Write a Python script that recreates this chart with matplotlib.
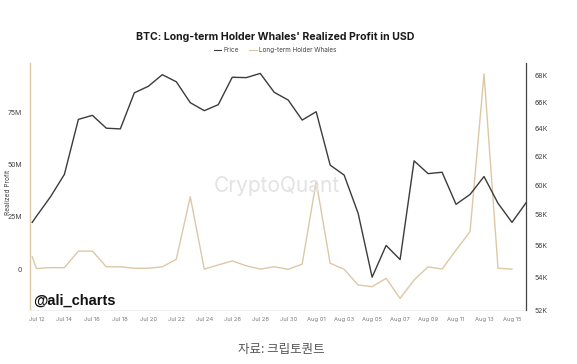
import matplotlib
matplotlib.use("Agg")
import matplotlib.pyplot as plt
import matplotlib.dates as mdates
from matplotlib.lines import Line2D
from matplotlib.ticker import FixedLocator, FuncFormatter, NullLocator
import pandas as pd

plt.rcParams["font.family"] = ["Inter", "DejaVu Sans"]

# daily points Jul 12 .. Aug 16, plus the partial point at the very left edge
dates = pd.to_datetime(["2024-07-11 16:48"]).append(pd.date_range("2024-07-12", "2024-08-16", freq="D"))

# BTC price in K USD (right axis, log)
price = [57.5, 57.9, 59.2, 60.75, 64.7, 65.0, 64.05, 64.0, 66.7, 67.2, 68.1, 67.55, 65.95,
         65.35, 65.8, 67.9, 67.87, 68.2, 66.74, 66.15, 64.65, 65.27, 61.4, 60.7, 58.1,
         54.0, 56.0, 55.1, 61.7, 60.8, 60.9, 58.7, 59.37, 60.6, 58.77, 57.5, 58.8]

# long-term holder whales realized profit in M USD (left axis), no value on Aug 16
profit = [6.0, 0.4, 0.8, 0.8, 8.7, 8.7, 1.2, 1.2, 0.5, 0.5, 1.2, 4.8, 34.7,
          0.1, 2.1, 4.0, 1.7, 0.1, 1.2, 0.0, 2.5, 41.9, 2.9, 0.0, -7.5,
          -8.3, -4.3, -13.9, -5.1, 1.2, 0.1, 9.2, 18.0, 93.4, 0.5, 0.1, None]

price_color = "#3b3b3b"
profit_color = "#dec7a6"

fig = plt.figure(figsize=(5.77, 3.64), dpi=100)
ax = fig.add_axes([0.052, 0.148, 0.8596, 0.679])
ax2 = ax.twinx()

ax.plot(dates, [float("nan") if v is None else v for v in profit], color=profit_color, lw=1.0)
ax2.plot(dates, price, color=price_color, lw=1.0)

ax.set_xlim(pd.Timestamp("2024-07-11 13:00"), pd.Timestamp("2024-08-16"))
ax.set_ylim(-19.5, 98.6)
ax.set_yticks([0, 25, 50, 75])
ax.set_yticklabels(["0", "25M", "50M", "75M"])
ax.set_ylabel("Realized Profit", fontsize=4.7, color="#444444")
ax.yaxis.set_label_coords(-0.038, 0.475)

ax2.set_yscale("log")
ax2.set_ylim(52, 69.02)
ax2.yaxis.set_major_locator(FixedLocator(list(range(52, 69, 2))))
ax2.yaxis.set_minor_locator(NullLocator())
ax2.yaxis.set_major_formatter(FuncFormatter(lambda v, p: f"{int(round(v))}K"))

ax.set_xticks(pd.date_range("2024-07-12", "2024-08-15", freq="2D"))
ax.xaxis.set_major_formatter(mdates.DateFormatter("%b %d"))

for a in (ax, ax2):
    a.tick_params(length=0, labelsize=5, labelcolor="#444444")
    for s in a.spines.values():
        s.set_visible(False)
ax.tick_params(axis="x", labelsize=4.2, labelcolor="#777777", pad=5)
ax.tick_params(axis="y", pad=6)
ax2.tick_params(axis="y", pad=6)

ax.spines["left"].set_visible(True)
ax.spines["left"].set_color(profit_color)
ax.spines["left"].set_linewidth(1.0)
ax2.spines["right"].set_visible(True)
ax2.spines["right"].set_color("#444444")
ax2.spines["right"].set_linewidth(0.9)
ax.spines["bottom"].set_visible(True)
ax.spines["bottom"].set_color("#eeeeee")
ax.spines["bottom"].set_linewidth(0.6)

fig.text(0.477, 0.899, "BTC: Long-term Holder Whales' Realized Profit in USD",
         ha="center", va="center", fontsize=7.6, fontweight="bold", color="#1a1a1a")
handles = [Line2D([], [], color=price_color, lw=0.8), Line2D([], [], color=profit_color, lw=0.8)]
fig.legend(handles, ["Price", "Long-term Holder Whales"], loc="center", bbox_to_anchor=(0.477, 0.862),
           ncol=2, frameon=False, fontsize=4.6, handlelength=1.2, handletextpad=0.4, columnspacing=1.5,
           labelcolor="#444444")

fig.text(0.48, 0.49, "CryptoQuant", ha="center", va="center", fontsize=15, color="#e3e3e3", zorder=0)
fig.text(0.057, 0.175, "@ali_charts", ha="left", va="center", fontsize=10.5, fontweight="bold",
         color="#111111", family=["Liberation Sans", "DejaVu Sans"])
fig.text(0.488, 0.04, "자료: 크립토퀀트", ha="center", va="center", fontsize=9, color="#555555",
         family=["Noto Sans CJK KR", "DejaVu Sans"])

fig.savefig("out.png", dpi=100)
